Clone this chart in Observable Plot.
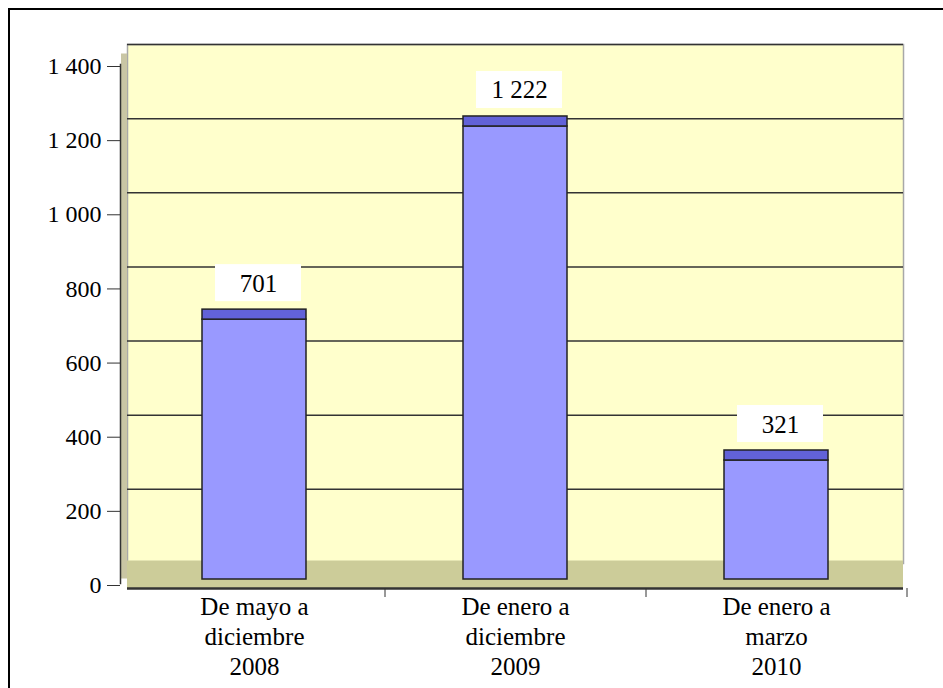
<!DOCTYPE html>
<html><head><meta charset="utf-8">
<script src="https://cdn.jsdelivr.net/npm/d3@7"></script>
<script src="https://cdn.jsdelivr.net/npm/@observablehq/plot@0.6"></script>
<style>
body{margin:0;background:#fff;}
#wrap{position:relative;width:943px;height:688px;overflow:hidden;}
#chart{position:absolute;left:0;top:0;}
#frame{position:absolute;left:8px;top:8px;width:980px;height:720px;border-left:2px solid #000;border-top:2px solid #000;pointer-events:none;}
</style></head><body>
<div id="wrap"><div id="chart"></div><div id="frame"></div></div>
<script>
const categories = ["De mayo a\ndiciembre\n2008", "De enero a\ndiciembre\n2009", "De enero a\nmarzo\n2010"];
const values = [701, 1222, 321];
const yTicks = [0, 200, 400, 600, 800, 1000, 1200, 1400];

const data = categories.map((c, i) => ({category: c, value: values[i]}));
const fmt = d3.formatLocale({thousands: " ", grouping: [3], decimal: ","}).format(",");
const font = "'Liberation Serif','Times New Roman',serif";

const chart = Plot.plot({
  width: 943, height: 688,
  marginLeft: 127, marginRight: 40, marginTop: 60, marginBottom: 109,
  style: {fontFamily: font, background: "white", overflow: "visible", color: "black"},
  x: {domain: categories, paddingInner: 0.6, paddingOuter: 0.285, label: null},
  y: {domain: [0, 1400], label: null},
  marks: [
    Plot.frame({fill: "#ffffcc", stroke: "#a8a8a8", strokeWidth: 1.5, dy: -16}),
    Plot.gridY({ticks: yTicks.slice(1), stroke: "#333", strokeOpacity: 1, strokeWidth: 1.5, dy: -16}),
    Plot.frame({anchor: "left", stroke: "#c9c6a4", strokeWidth: 6, dx: -3.5, dy: -4}),
    Plot.frame({anchor: "left", stroke: "#333", strokeWidth: 1.5, dx: -7, dy: 4}),
    Plot.ruleY([0], {stroke: "#cccc99", strokeWidth: 28, dy: -5}),
    Plot.ruleY([0], {stroke: "#333", strokeWidth: 2.5, dy: 9}),
    Plot.axisY({ticks: yTicks, tickSize: 13, dx: -7, dy: 6, tickPadding: 6, fontSize: 24, tickFormat: fmt, label: null, stroke: "#333"}),
    Plot.axisX({tickSize: 9, dx: 130.5, dy: 9, tickFormat: () => "", label: null, stroke: "#333"}),
    Plot.barY(data, {x: "category", y: "value", fill: "#9999ff", stroke: "#222", strokeWidth: 1.5}),
    Plot.barY(data, {x: "category", y1: "value", y2: "value", insetTop: -10, fill: "#6262d8", stroke: "#222", strokeWidth: 1.5}),
    Plot.barY(data, {x: "category", y1: "value", y2: "value", insetTop: -55, insetBottom: 18, insetLeft: 9, insetRight: 9, dx: 4, fill: "white"}),
    Plot.text(data, {x: "category", y: "value", text: d => fmt(d.value), dy: -36, dx: 4, fontSize: 25, fill: "black"}),
    Plot.text(data, {x: "category", text: "category", frameAnchor: "bottom", lineAnchor: "top", dy: 14, fontSize: 25, lineHeight: 1.2, fill: "black"})
  ]
});
document.getElementById("chart").appendChild(chart);
</script>
</body></html>
